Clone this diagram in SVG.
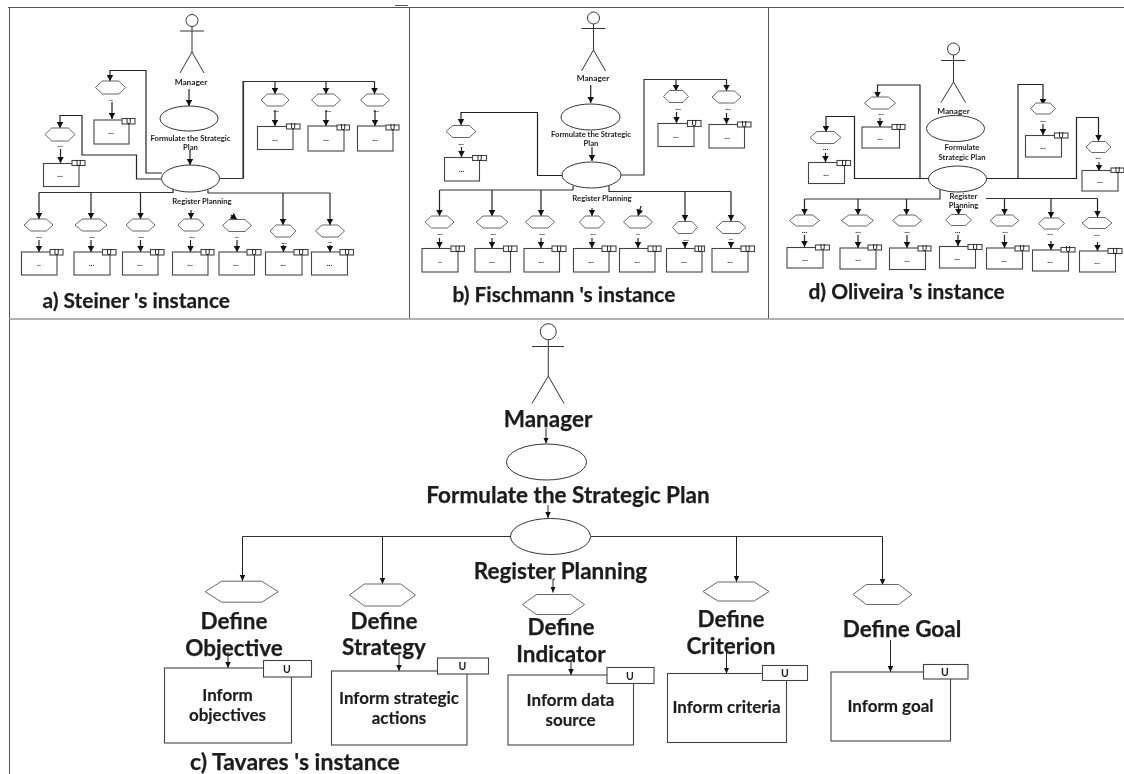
<svg xmlns="http://www.w3.org/2000/svg" xmlns:xlink="http://www.w3.org/1999/xlink" width="1124" height="774" viewBox="0 0 1124 774">
<style>
text{font-family:"Lato","Liberation Sans",sans-serif;font-weight:700;fill:#1c1c1c;text-anchor:middle}
.panel{filter:url(#soft)}
.f{fill:#fff;stroke:#333;stroke-width:1}
.b{fill:#fff;stroke:#444;stroke-width:1.1}
.h{fill:#fff;stroke:#666;stroke-width:1}
.a{fill:none;stroke:#333;stroke-width:1}
.c{fill:none;stroke:#333;stroke-width:1.2}
.e{fill:none;stroke:#222;stroke-width:1.2;marker-end:url(#m)}
.e2{fill:none;stroke:#222;stroke-width:1;marker-end:url(#n)}
.fr{fill:none;stroke:#555;stroke-width:1}
.fg{fill:none;stroke:#999;stroke-width:1.5}
.s{font-size:7.700px}
.mg{font-size:8.300px}
.d{font-size:8px}
.u{font-size:7px}
.cap{font-size:20.900px;text-anchor:start;stroke:#1c1c1c;stroke-width:.25}
.capc{font-size:23px;text-anchor:start;stroke:#1c1c1c;stroke-width:.25}
.l{font-size:22.500px;stroke:#1c1c1c;stroke-width:.25}
.t{font-size:17px;stroke:#1c1c1c;stroke-width:.15}
.ub{font-size:10.500px}
</style>
<defs>
<filter id="soft" color-interpolation-filters="sRGB"><feGaussianBlur stdDeviation="0.25"/></filter>
<marker id="m" markerUnits="userSpaceOnUse" markerWidth="7" markerHeight="7" refX="6.5" refY="3.5" orient="auto"><path d="M0,0L6.5,3.5L0,7Z" fill="#111"/></marker>
<marker id="n" markerUnits="userSpaceOnUse" markerWidth="6" markerHeight="6" refX="6" refY="2.75" orient="auto"><path d="M0,0L6,2.75L0,5.500Z" fill="#111"/></marker>
<polygon id="hex" points="-1,0 -.55,-1 .55,-1 1,0 .55,1 -.55,1" vector-effect="non-scaling-stroke"/>
</defs>
<rect width="1124" height="774" fill="#fff"/>
<g id="frames">
<path class="fr" d="M8,7.500H1124M395,5.500H408M9.500,8V774M409.500,8V319M768.500,8V319"/>
<path class="fg" d="M9,319H1124"/>
</g>
<g id="connectors">
<path class="e" d="M189,89V106"/><path class="e" d="M190,150V165"/>
<path class="e" d="M162,173H146V70.500H110V81"/>
<path class="e" d="M161,179H136.500V155H82V115.500H60V128"/>
<path class="c" d="M220,178.500H243V81.500H374.500"/><path class="c" d="M243.500,178V82" />
<path class="e" d="M275,81.500V94"/><path class="e" d="M326,81.500V94"/><path class="e" d="M374.500,81.500V94"/>
<path class="c" d="M173,189V192.500H39"/>
<path class="e" d="M39,192.500V219"/><path class="e" d="M91,192.500V219"/><path class="e" d="M140.500,192.500V219"/>
<path class="e" d="M191,210V219"/><path class="e" d="M231,215L237,219.500"/>
<path class="c" d="M208,190V193H330"/>
<path class="e" d="M283,193V225"/><path class="e" d="M330,193V225"/>
<path class="e" d="M112,102V119"/><path class="e" d="M60.500,149V163"/>
<path class="e" d="M275,110V126"/><path class="e" d="M326,110V126"/><path class="e" d="M375,110V126"/>
<path class="e" d="M39,240V252"/><path class="e" d="M91,240V252"/><path class="e" d="M140.500,240V252"/><path class="e" d="M190.500,240V252"/><path class="e" d="M237,240V252"/><path class="e" d="M283.500,245V252"/><path class="e" d="M330,245V252"/>

<path class="e" d="M590.700,85V103"/><path class="e" d="M592,147V161"/>
<path class="e" d="M563,175.500H537.500V112.500H461V125"/>
<path class="c" d="M621,175H644V79.500H727"/>
<path class="e" d="M676,79.500V91"/><path class="e" d="M726.500,79.500V91"/>
<path class="c" d="M573,186V190H439.500"/>
<path class="e" d="M439.500,190V216"/><path class="e" d="M492,190V216"/><path class="e" d="M541,190V216"/>
<path class="e" d="M592,208V216"/><path class="e" d="M641,206L638,216"/>
<path class="c" d="M609,186V191.500H731"/>
<path class="e" d="M685,191.500V221"/><path class="e" d="M731,191.500V221"/>
<path class="e" d="M461.500,147V157"/><path class="e" d="M676.500,112V123"/><path class="e" d="M726.500,113V124"/>
<path class="e" d="M439.500,238V248"/><path class="e" d="M492,238V248"/><path class="e" d="M541,238V248"/><path class="e" d="M592,238V248"/><path class="e" d="M638,238V248"/><path class="e" d="M685,243V248"/><path class="e" d="M731,243V248"/>

<path class="e" d="M929,178.500H920V85H877.500V98"/>
<path class="e" d="M920,178.500H854.500V116.500H826V132"/>
<path class="e" d="M987,178.500H1018V84.500H1043V105"/>
<path class="e" d="M1018,178.500H1076.500V117.500H1098.500V141"/>
<path class="c" d="M940,190V199H804.500"/>
<path class="e" d="M804.500,199V215"/><path class="e" d="M858,199V215"/><path class="e" d="M906.500,199V215"/><path class="e" d="M958.500,206V215"/>
<path class="c" d="M986,198.500H1097.500"/>
<path class="e" d="M1004.500,198.500V215"/><path class="e" d="M1051,198.500V218"/><path class="e" d="M1097.500,198.500V217"/>
<path class="e" d="M880,118V127"/><path class="e" d="M825.500,153V162"/><path class="e" d="M1043,124V135"/><path class="e" d="M1099,162V171"/>
<path class="e" d="M804.500,235V247"/><path class="e" d="M858,235V248"/><path class="e" d="M907,235V248"/><path class="e" d="M958,235V246"/><path class="e" d="M1004.500,235V248"/><path class="e" d="M1051,241V250"/><path class="e" d="M1097.500,242V251"/>

<path class="e2" d="M546,428V443.500"/><path class="e2" d="M548,505V518"/>
<path class="a" d="M511,536.500H242.500M591,536.500H882.500"/>
<path class="e2" d="M242.500,536.500V581"/><path class="e2" d="M382.500,536.500V584"/><path class="e2" d="M736.500,536.500V582"/><path class="e2" d="M882.500,536.500V585"/>
<path class="e2" d="M555,579H553V592.500"/>
<path class="e2" d="M228,652V668"/><path class="e2" d="M399,655V671"/><path class="e2" d="M571,660V675"/><path class="e2" d="M726.500,653V673.500"/><path class="e2" d="M890.500,640V672"/>
</g>

<g id="panel-a" class="panel">
<g id="a-manager"><circle class="a" cx="192" cy="20.500" r="6"/><path class="a" d="M192,26.500V52M180,31H204M180,73L192,52L204,73"/><text class="mg" x="191" y="85">Manager</text></g>
<g id="a-formulate"><ellipse class="a" cx="189" cy="118.500" rx="29" ry="12.500"/><text class="s" x="190.500" y="141">Formulate the Strategic</text><text class="s" x="190.500" y="150">Plan</text></g>
<g id="a-register"><ellipse class="f" cx="190.500" cy="178.500" rx="29" ry="13.500"/><text class="s" x="202" y="204">Register Planning</text></g>
<g id="a-1"><use href="#hex" class="h" transform="translate(110.500 87.500) scale(15 6.500)"/><text class="d" x="111" y="101">..</text><rect class="b" x="94" y="120" width="35" height="24"/><rect class="b" x="122" y="118.500" width="13" height="5.500"/><text class="u" x="128.500" y="124">U</text><text class="d" x="111" y="134">...</text></g>
<g id="a-2"><use href="#hex" class="h" transform="translate(60 134.500) scale(15 6.500)"/><text class="d" x="60" y="147">...</text><rect class="b" x="43.500" y="163.500" width="35.500" height="23"/><rect class="b" x="72" y="160.500" width="13" height="5"/><text class="u" x="78.500" y="165.500">U</text><text class="d" x="60" y="177">...</text></g>
<g id="a-3"><use href="#hex" class="h" transform="translate(275 100) scale(14 6)"/><text class="d" x="276" y="112">...</text><rect class="b" x="257.500" y="126.500" width="35.500" height="23"/><rect class="b" x="286.500" y="124" width="13.500" height="5"/><text class="u" x="293" y="129">U</text><text class="d" x="275" y="141">...</text></g>
<g id="a-4"><use href="#hex" class="h" transform="translate(326 100) scale(14.500 6)"/><text class="d" x="328" y="112">...</text><rect class="b" x="308" y="126" width="36" height="25"/><rect class="b" x="337" y="125" width="12.500" height="5"/><text class="u" x="343" y="130">U</text><text class="d" x="326" y="141">...</text></g>
<g id="a-5"><use href="#hex" class="h" transform="translate(375 100) scale(14.500 6)"/><text class="d" x="376" y="112">...</text><rect class="b" x="357.500" y="126" width="35.500" height="25"/><rect class="b" x="386" y="125" width="13" height="5"/><text class="u" x="392.500" y="130">U</text><text class="d" x="375" y="141">...</text></g>
<g id="a-6"><use href="#hex" class="h" transform="translate(38.500 225) scale(14.500 6)"/><text class="d" x="39" y="238">...</text><rect class="b" x="21.500" y="252" width="35.500" height="23"/><rect class="b" x="50" y="249.500" width="13" height="5.500"/><text class="u" x="56.500" y="255">U</text><text class="d" x="39" y="266">..</text></g>
<g id="a-7"><use href="#hex" class="h" transform="translate(91 225) scale(16 6)"/><text class="d" x="92" y="238">...</text><rect class="b" x="74" y="252" width="36" height="23"/><rect class="b" x="102.500" y="249.500" width="13.500" height="5.500"/><text class="u" x="109" y="255">U</text><text class="d" x="91.500" y="266">...</text></g>
<g id="a-8"><use href="#hex" class="h" transform="translate(140.500 225) scale(14.500 6)"/><text class="d" x="141" y="238">...</text><rect class="b" x="122.500" y="252" width="35.500" height="23"/><rect class="b" x="150.500" y="249.500" width="13.500" height="5.500"/><text class="u" x="157" y="255">U</text><text class="d" x="140" y="266">...</text></g>
<g id="a-9"><use href="#hex" class="h" transform="translate(191 225) scale(13 6)"/><text class="d" x="192" y="238">...</text><rect class="b" x="172.500" y="252" width="35.500" height="23"/><rect class="b" x="201" y="249.500" width="13" height="5.500"/><text class="u" x="207.500" y="255">U</text><text class="d" x="190" y="266">...</text></g>
<g id="a-10"><use href="#hex" class="h" transform="translate(237 225.500) scale(14.500 6)"/><text class="d" x="237" y="238">..</text><rect class="b" x="219" y="252" width="35.500" height="23"/><rect class="b" x="247" y="249.500" width="14" height="5.500"/><text class="u" x="254" y="255">U</text><text class="d" x="236" y="266">...</text></g>
<g id="a-11"><use href="#hex" class="h" transform="translate(283 231) scale(13 6)"/><text class="d" x="284" y="244">...</text><rect class="b" x="265.500" y="252" width="36.500" height="23"/><rect class="b" x="294" y="249.500" width="14" height="5.500"/><text class="u" x="301" y="255">U</text><text class="d" x="283" y="266">...</text></g>
<g id="a-12"><use href="#hex" class="h" transform="translate(330 231) scale(14.500 6)"/><text class="d" x="330" y="243">..</text><rect class="b" x="311.500" y="252" width="36" height="23"/><rect class="b" x="340" y="249.500" width="13.500" height="5.500"/><text class="u" x="347" y="255">U</text><text class="d" x="329.500" y="266">...</text></g>
<text class="cap" x="42.500" y="308">a) Steiner 's instance</text>
</g>

<g id="panel-b" class="panel">
<g id="b-manager"><circle class="a" cx="593.500" cy="18" r="6"/><path class="a" d="M593.500,24V50M581.500,28.500H605.500M581.500,71L593.500,50L605.500,71"/><text class="mg" x="593" y="81">Manager</text></g>
<g id="b-formulate"><ellipse class="a" cx="590.500" cy="117" rx="29.500" ry="13"/><text class="s" x="591" y="137">Formulate the Strategic</text><text class="s" x="591" y="146">Plan</text></g>
<g id="b-register"><ellipse class="f" cx="591.500" cy="175" rx="29.500" ry="13"/><text class="s" x="602" y="201">Register Planning</text></g>
<g id="b-1"><use href="#hex" class="h" transform="translate(461 131.500) scale(15 6)"/><text class="d" x="461" y="145">...</text><rect class="b" x="444.500" y="157.500" width="35" height="23.500"/><rect class="b" x="472.500" y="155.500" width="14" height="5"/><text class="u" x="479.500" y="160.500">U</text><text class="d" x="461.500" y="172">...</text></g>
<g id="b-2"><use href="#hex" class="h" transform="translate(676 96.500) scale(12.500 6)"/><text class="d" x="678" y="110">...</text><rect class="b" x="658" y="123.500" width="36" height="23"/><rect class="b" x="687.500" y="120.500" width="13.500" height="6"/><text class="u" x="694" y="126">U</text><text class="d" x="676" y="138">...</text></g>
<g id="b-3"><use href="#hex" class="h" transform="translate(726.500 97) scale(14.500 6)"/><text class="d" x="728" y="110">...</text><rect class="b" x="709" y="124.500" width="35.500" height="23.500"/><rect class="b" x="737.500" y="122" width="13.500" height="5"/><text class="u" x="744" y="127">U</text><text class="d" x="727" y="139">...</text></g>
<g id="b-4"><use href="#hex" class="h" transform="translate(439.500 222) scale(14.500 6)"/><text class="d" x="440" y="235">...</text><rect class="b" x="422" y="248.500" width="36" height="23.500"/><rect class="b" x="451" y="246" width="13.500" height="5.500"/><text class="u" x="457.500" y="251.500">U</text><text class="d" x="440" y="263">..</text></g>
<g id="b-5"><use href="#hex" class="h" transform="translate(492 222) scale(16 6)"/><text class="d" x="493" y="235">...</text><rect class="b" x="475" y="248.500" width="35.500" height="23.500"/><rect class="b" x="503.500" y="246" width="13.500" height="5.500"/><text class="u" x="510" y="251.500">U</text><text class="d" x="492" y="263">...</text></g>
<g id="b-6"><use href="#hex" class="h" transform="translate(540 222) scale(14.500 6)"/><text class="d" x="542" y="235">...</text><rect class="b" x="524" y="248.500" width="35.500" height="23.500"/><rect class="b" x="552" y="246" width="14" height="5.500"/><text class="u" x="559" y="251.500">U</text><text class="d" x="541" y="263">...</text></g>
<g id="b-7"><use href="#hex" class="h" transform="translate(592 222) scale(12.500 6)"/><text class="d" x="593" y="235">...</text><rect class="b" x="573.500" y="248.500" width="35.500" height="23.500"/><rect class="b" x="602" y="246" width="14" height="5.500"/><text class="u" x="609" y="251.500">U</text><text class="d" x="591" y="263">...</text></g>
<g id="b-8"><use href="#hex" class="h" transform="translate(638 222) scale(14.500 6)"/><text class="d" x="638" y="235">..</text><rect class="b" x="619.500" y="248.500" width="35.500" height="23.500"/><rect class="b" x="648" y="246" width="13" height="5.500"/><text class="u" x="654.500" y="251.500">U</text><text class="d" x="637" y="263">...</text></g>
<g id="b-9"><use href="#hex" class="h" transform="translate(685 227.500) scale(12.500 6)"/><text class="d" x="686" y="241">...</text><rect class="b" x="666.500" y="248.500" width="35.500" height="23.500"/><rect class="b" x="695" y="246" width="9.500" height="5.500"/><text class="u" x="700" y="251.500">U</text><text class="d" x="684" y="263">...</text></g>
<g id="b-10"><use href="#hex" class="h" transform="translate(731 227.500) scale(15 6)"/><text class="d" x="731" y="240">..</text><rect class="b" x="712" y="248.500" width="36" height="23.500"/><rect class="b" x="741" y="246" width="13.500" height="5.500"/><text class="u" x="747.500" y="251.500">U</text><text class="d" x="730" y="263">...</text></g>
<text class="cap" x="452.500" y="302">b) Fischmann 's instance</text>
</g>

<g id="panel-d" class="panel">
<g id="d-manager"><circle class="a" cx="953.500" cy="49" r="6"/><path class="a" d="M953.500,55V82M941,60.500H965.500M941,102.500L953.500,82L965.500,102.500"/><text class="mg" x="953.500" y="114">Manager</text></g>
<g id="d-formulate"><ellipse class="a" cx="955.500" cy="128.500" rx="29" ry="13"/><text class="s" x="962" y="150">Formulate</text><text class="s" x="962" y="159.500">Strategic Plan</text></g>
<g id="d-register"><ellipse class="f" cx="957.500" cy="179" rx="29" ry="13"/><text class="s" x="963.500" y="199">Register</text><text class="s" x="963.500" y="208">Planning</text></g>
<g id="d-1"><use href="#hex" class="h" transform="translate(880 103) scale(15.500 6)"/><text class="d" x="881" y="115">...</text><rect class="b" x="862" y="127" width="37.500" height="21"/><rect class="b" x="892" y="124.500" width="13" height="5"/><text class="u" x="898.500" y="129.500">U</text><text class="d" x="880" y="140">...</text></g>
<g id="d-2"><use href="#hex" class="h" transform="translate(825.500 137.500) scale(15.500 6)"/><text class="d" x="825.500" y="150">...</text><rect class="b" x="808.500" y="162.500" width="36" height="21"/><rect class="b" x="837" y="160.500" width="13.500" height="5"/><text class="u" x="844" y="165.500">U</text><text class="d" x="826" y="176">...</text></g>
<g id="d-3"><use href="#hex" class="h" transform="translate(1043 108.500) scale(12.500 5.500)"/><text class="d" x="1043" y="122">...</text><rect class="b" x="1025.500" y="135.500" width="36" height="21.500"/><rect class="b" x="1054.500" y="133" width="13.500" height="5"/><text class="u" x="1061" y="138">U</text><text class="d" x="1043" y="149">...</text></g>
<g id="d-4"><use href="#hex" class="h" transform="translate(1098.500 147) scale(12.500 5.500)"/><text class="d" x="1098" y="159">...</text><rect class="b" x="1082" y="170.500" width="36" height="20.500"/><rect class="b" x="1111" y="168" width="13" height="4.500"/><text class="u" x="1117.500" y="172.500">U</text><text class="d" x="1100" y="183">...</text></g>
<g id="d-5"><use href="#hex" class="h" transform="translate(804.500 220.500) scale(15 5.500)"/><text class="d" x="804.500" y="233">...</text><rect class="b" x="787" y="247.500" width="36" height="20.500"/><rect class="b" x="815.500" y="245" width="14" height="5"/><text class="u" x="822.500" y="250">U</text><text class="d" x="805" y="261">...</text></g>
<g id="d-6"><use href="#hex" class="h" transform="translate(857.500 220.500) scale(16 5.500)"/><text class="d" x="858" y="233">...</text><rect class="b" x="840" y="248" width="36" height="21"/><rect class="b" x="868" y="245" width="13.500" height="5"/><text class="u" x="875" y="250">U</text><text class="d" x="858" y="261">...</text></g>
<g id="d-7"><use href="#hex" class="h" transform="translate(907 220.500) scale(14.500 5.500)"/><text class="d" x="907" y="233">...</text><rect class="b" x="889.500" y="248" width="36" height="21.500"/><rect class="b" x="918" y="246" width="13" height="5"/><text class="u" x="924.500" y="251">U</text><text class="d" x="907" y="262">...</text></g>
<g id="d-8"><use href="#hex" class="h" transform="translate(958.500 220) scale(13 5.500)"/><text class="d" x="957.500" y="233">...</text><rect class="b" x="939.500" y="246.500" width="36" height="21.500"/><rect class="b" x="968" y="244.500" width="14" height="5"/><text class="u" x="975" y="249.500">U</text><text class="d" x="957" y="260">...</text></g>
<g id="d-9"><use href="#hex" class="h" transform="translate(1004.500 220.500) scale(14.500 5.500)"/><text class="d" x="1005" y="233">...</text><rect class="b" x="986.500" y="248" width="36" height="21"/><rect class="b" x="1015" y="246" width="14" height="5"/><text class="u" x="1022" y="251">U</text><text class="d" x="1004" y="262">...</text></g>
<g id="d-10"><use href="#hex" class="h" transform="translate(1051.500 223.500) scale(13 5.500)"/><text class="d" x="1050" y="235">...</text><rect class="b" x="1032.500" y="250" width="36" height="21"/><rect class="b" x="1061" y="247.500" width="14" height="4.500"/><text class="u" x="1068" y="252">U</text><text class="d" x="1050" y="263">...</text></g>
<g id="d-11"><use href="#hex" class="h" transform="translate(1097 223) scale(15 5.500)"/><text class="d" x="1097" y="236">...</text><rect class="b" x="1079.500" y="251" width="36" height="21"/><rect class="b" x="1108" y="248.500" width="14" height="5"/><text class="u" x="1115" y="253.500">U</text><text class="d" x="1097" y="264">...</text></g>
<text class="cap" x="808.500" y="299">d) Oliveira 's instance</text>
</g>

<g id="panel-c" class="panel">
<g id="c-manager"><circle class="a" cx="548.300" cy="331.700" r="8"/><path class="a" d="M548.300,339.700V376M532,346.500H564M532,403.500L548.300,376L564,403.500"/><text class="l" x="548" y="427">Manager</text></g>
<g id="c-formulate"><ellipse class="a" cx="546.500" cy="462" rx="40" ry="18"/><text class="l" x="568" y="503">Formulate the Strategic Plan</text></g>
<g id="c-register"><ellipse class="a" cx="550.500" cy="536.500" rx="40" ry="18"/><text class="l" x="560.500" y="579">Register Planning</text></g>
<g id="c-objective"><use href="#hex" class="h" transform="translate(241.700 591.700) scale(36.500 10.500)"/><text class="l" x="234" y="629">Define</text><text class="l" x="234" y="656">Objective</text></g>
<g id="c-strategy"><use href="#hex" class="h" transform="translate(382.500 595) scale(33 11)"/><text class="l" x="384" y="629">Define</text><text class="l" x="384" y="655">Strategy</text></g>
<g id="c-indicator"><use href="#hex" class="h" transform="translate(553.500 604.500) scale(31 10)"/><text class="l" x="561" y="635">Define</text><text class="l" x="561" y="662">Indicator</text></g>
<g id="c-criterion"><use href="#hex" class="h" transform="translate(736 591.500) scale(33 9.500)"/><text class="l" x="731" y="627">Define</text><text class="l" x="731" y="654">Criterion</text></g>
<g id="c-goal"><use href="#hex" class="h" transform="translate(882.500 594.500) scale(29.500 10)"/><text class="l" x="902" y="637">Define Goal</text></g>
<g id="c-task-1"><rect class="b" x="164.500" y="668" width="127" height="75"/><rect class="b" x="263.500" y="660.500" width="48" height="16.500"/><text class="ub" x="287" y="673">U</text><text class="t" x="227.500" y="701">Inform</text><text class="t" x="227.500" y="721">objectives</text></g>
<g id="c-task-2"><rect class="b" x="331.500" y="671" width="135.500" height="74"/><rect class="b" x="437.500" y="658" width="51" height="16"/><text class="ub" x="462.500" y="670">U</text><text class="t" x="399" y="704">Inform strategic</text><text class="t" x="399" y="724">actions</text></g>
<g id="c-task-3"><rect class="b" x="508" y="675" width="125.500" height="70"/><rect class="b" x="607" y="667.500" width="47" height="16"/><text class="ub" x="630" y="679.500">U</text><text class="t" x="570.500" y="706">Inform data</text><text class="t" x="570.500" y="726">source</text></g>
<g id="c-task-4"><rect class="b" x="667.500" y="673.500" width="119" height="69"/><rect class="b" x="762.500" y="665.500" width="45" height="15"/><text class="ub" x="785" y="677">U</text><text class="t" x="726.500" y="713">Inform criteria</text></g>
<g id="c-task-5"><rect class="b" x="831" y="672" width="119.500" height="69"/><rect class="b" x="923.500" y="664.500" width="44.500" height="14.500"/><text class="ub" x="945" y="676">U</text><text class="t" x="890.500" y="711.500">Inform goal</text></g>
<text class="capc" x="190" y="770">c) Tavares 's instance</text>
</g>
</svg>
